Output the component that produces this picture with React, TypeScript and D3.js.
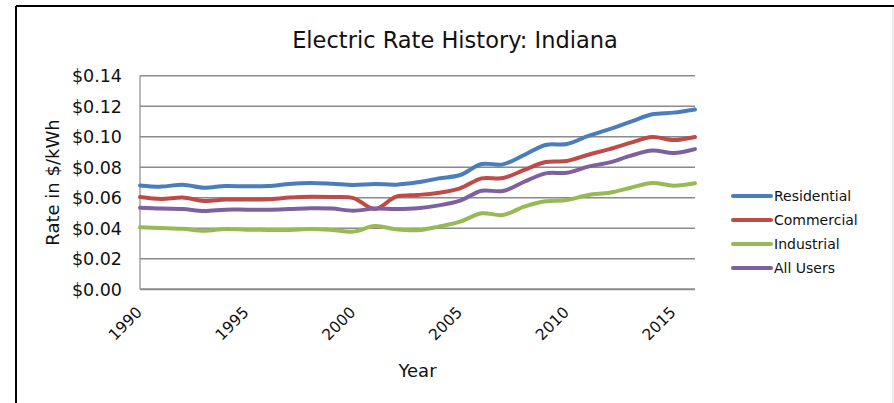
import React from "react";
import * as d3 from "d3";

const years = d3.range(1990, 2017);
const residential = [0.0681, 0.0673, 0.0686, 0.0666, 0.0677, 0.0675, 0.0677, 0.069, 0.0697, 0.0692, 0.0684, 0.069, 0.0686, 0.0701, 0.0727, 0.0749, 0.0821, 0.0819, 0.088, 0.0946, 0.0952, 0.1005, 0.105, 0.1099, 0.1147, 0.1158, 0.1179];
const commercial = [0.0605, 0.0592, 0.0601, 0.0579, 0.0588, 0.0588, 0.059, 0.0601, 0.0607, 0.0605, 0.0598, 0.0526, 0.0607, 0.0618, 0.0633, 0.0662, 0.0727, 0.0729, 0.0782, 0.0834, 0.0841, 0.0882, 0.0919, 0.0961, 0.0998, 0.0978, 0.0998];
const industrial = [0.0406, 0.0402, 0.0397, 0.0384, 0.0395, 0.0391, 0.0389, 0.0389, 0.0395, 0.0389, 0.0378, 0.0415, 0.0393, 0.0387, 0.0411, 0.0443, 0.0498, 0.0487, 0.0542, 0.0577, 0.0585, 0.0618, 0.0633, 0.0666, 0.0697, 0.0679, 0.0695];
const allUsers = [0.0535, 0.0529, 0.0526, 0.0513, 0.0522, 0.0522, 0.0522, 0.0526, 0.0531, 0.0529, 0.0515, 0.0529, 0.0526, 0.0531, 0.055, 0.0581, 0.0646, 0.0644, 0.0705, 0.076, 0.0764, 0.0804, 0.0832, 0.0876, 0.0909, 0.0893, 0.0919];
const yTicks = [0, 0.02, 0.04, 0.06, 0.08, 0.1, 0.12, 0.14];
const xTickYears = [1990, 1995, 2000, 2005, 2010, 2015];

const seriesList = [
  { name: "Residential", values: residential, color: "#4A7EBB" },
  { name: "Commercial", values: commercial, color: "#BE4B48" },
  { name: "Industrial", values: industrial, color: "#98B954" },
  { name: "All Users", values: allUsers, color: "#7D60A0" },
];

const FONT = "'DejaVu Sans', sans-serif";

export default function App() {
  const W = 894, H = 403;
  const left = 140, right = 695, top = 75.7, bottom = 289.3;
  const x = d3.scaleLinear().domain([1990, 2016]).range([left, right]);
  const y = d3.scaleLinear().domain([0, 0.14]).range([bottom, top]);
  const line = d3
    .line<number>()
    .x((_, i) => x(years[i]))
    .y((d) => y(d))
    .curve(d3.curveCatmullRom.alpha(0.5));

  return (
    <svg width={W} height={H} style={{ position: "absolute", left: 0, top: 0 }} fontFamily={FONT}>
      <rect x={0} y={0} width={W} height={H} fill="#fff" />
      <line x1={16} y1={6} x2={W} y2={6} stroke="#000" strokeWidth={2} />
      <line x1={16} y1={6} x2={16} y2={H} stroke="#000" strokeWidth={2} />
      <line x1={893} y1={7} x2={893} y2={H} stroke="#d9d9d9" strokeWidth={1} />

      <text x={455} y={48} textAnchor="middle" fontSize={22.5} fill="#111">
        Electric Rate History: Indiana
      </text>

      {yTicks.map((t) => (
        <g key={t}>
          {t > 0 && (
            <line x1={left} x2={right} y1={y(t)} y2={y(t)} stroke="#8a8a8a" strokeWidth={1.5} />
          )}
          <text x={122} y={y(t)} dy="0.36em" textAnchor="end" fontSize={17.5} fill="#111">
            {"$" + t.toFixed(2)}
          </text>
        </g>
      ))}
      <line x1={left} x2={left} y1={top} y2={bottom} stroke="#8a8a8a" strokeWidth={1.2} />
      <line x1={left} x2={right} y1={bottom} y2={bottom} stroke="#8a8a8a" strokeWidth={2} />

      <text
        transform={`translate(59,${(top + bottom) / 2}) rotate(-90)`}
        textAnchor="middle"
        fontSize={18}
        fill="#111"
      >
        Rate in $/kWh
      </text>

      {xTickYears.map((yr) => (
        <text
          key={yr}
          transform={`translate(${x(yr) + 3},${bottom + 24}) rotate(-45)`}
          textAnchor="end"
          fontSize={15.5}
          fill="#111"
        >
          {yr}
        </text>
      ))}
      <text x={(left + right) / 2} y={377} textAnchor="middle" fontSize={18} fill="#111">
        Year
      </text>

      {seriesList.map((s) => (
        <path key={s.name} d={line(s.values) || ""} fill="none" stroke={s.color} strokeWidth={4} strokeLinejoin="round" strokeLinecap="round" />
      ))}

      {seriesList.map((s, i) => {
        const ly = 196 + i * 24;
        return (
          <g key={s.name}>
            <line x1={733} x2={771} y1={ly} y2={ly} stroke={s.color} strokeWidth={4} strokeLinecap="round" />
            <text x={774} y={ly} dy="0.35em" fontSize={14} fill="#111">
              {s.name}
            </text>
          </g>
        );
      })}
    </svg>
  );
}
